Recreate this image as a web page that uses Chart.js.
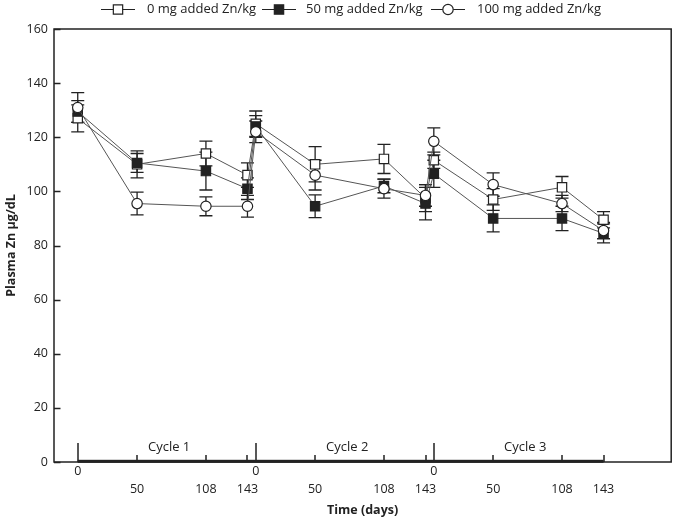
<!DOCTYPE html>
<html>
<head>
<meta charset="utf-8">
<script src="https://cdn.jsdelivr.net/npm/chart.js@4/dist/chart.umd.min.js"></script>
<style>
  html, body { margin: 0; padding: 0; background: #fff; }
  #wrap { width: 679px; height: 522px; }
</style>
</head>
<body>
<div id="wrap"><canvas id="c" width="679" height="522"></canvas></div>
<script>
// ---------- data ----------
const cycleNames = ['Cycle 1', 'Cycle 2', 'Cycle 3'];
const sampleDays = [0, 50, 108, 143];
const seriesNames = ['0 mg added Zn/kg', '50 mg added Zn/kg', '100 mg added Zn/kg'];

const zn0Mean  = [127, 110, 114, 106,   125, 110, 112, 97.5,   111.5, 97, 101.5, 89.5];
const zn0Err   = [5, 5, 4.6, 4.5,       4.7, 6.5, 5.4, 5,      3, 4, 4, 3];
const zn50Mean = [129.5, 110.5, 107.5, 101,  124, 94.5, 102, 95.5,  106.5, 90, 90, 84.5];
const zn50Err  = [4, 3.5, 7, 4,          4, 4.2, 2.5, 6,        5, 5, 4.5, 3.5];
const zn100Mean= [131, 95.5, 94.5, 94.5,  122, 106, 101, 98.5,  118.5, 102.5, 95.5, 85.5];
const zn100Err = [5.5, 4.2, 3.5, 4,      4, 5.5, 3.5, 4,        5, 4.3, 3, 3];

const yTicks = [0, 20, 40, 60, 80, 100, 120, 140, 160];

// ---------- derived ----------
const CYCLE_SPAN = 150; // days between cycle starts on the axis
const xValues = [];
const xDayLabels = [];
cycleNames.forEach((c, ci) => sampleDays.forEach(d => { xValues.push(ci * CYCLE_SPAN + d); xDayLabels.push(d); }));
const toPts = (means) => means.map((v, i) => ({ x: xValues[i], y: v }));

const FONT = "'Open Sans', 'DejaVu Sans', sans-serif";
const INK = '#222';

const datasets = [
  { label: seriesNames[0], data: toPts(zn0Mean), err: zn0Err, pointStyle: 'rect', pointRadius: 6.6,
    pointBackgroundColor: '#fff', order: 2 },
  { label: seriesNames[1], data: toPts(zn50Mean), err: zn50Err, pointStyle: 'rect', pointRadius: 6.6,
    pointBackgroundColor: '#222', order: 1 },
  { label: seriesNames[2], data: toPts(zn100Mean), err: zn100Err, pointStyle: 'circle', pointRadius: 5.2,
    pointBackgroundColor: '#fff', order: 0 }
].map(d => Object.assign({
  borderColor: '#555', borderWidth: 1, pointBorderColor: INK, pointBorderWidth: 1.2,
  pointHoverRadius: d.pointRadius, showLine: true, fill: false, tension: 0
}, d));

// error bars
const errorBars = {
  id: 'errorBars',
  beforeDatasetsDraw(chart) {
    const { ctx, scales: { x, y } } = chart;
    ctx.save();
    ctx.strokeStyle = INK;
    ctx.lineWidth = 1.3;
    chart.data.datasets.forEach(ds => {
      ds.data.forEach((p, i) => {
        const px = x.getPixelForValue(p.x);
        const top = y.getPixelForValue(p.y + ds.err[i]);
        const bot = y.getPixelForValue(p.y - ds.err[i]);
        ctx.beginPath();
        ctx.moveTo(px, top); ctx.lineTo(px, bot);
        ctx.moveTo(px - 6.5, top); ctx.lineTo(px + 6.5, top);
        ctx.moveTo(px - 6.5, bot); ctx.lineTo(px + 6.5, bot);
        ctx.stroke();
      });
    });
    ctx.restore();
  }
};

// frame, inward ticks, cycle labels, legend
const decor = {
  id: 'decor',
  afterDraw(chart) {
    const { ctx, chartArea: a, scales: { x, y } } = chart;
    ctx.save();
    ctx.strokeStyle = INK;
    ctx.lineWidth = 1.5;
    ctx.strokeRect(a.left, a.top, a.right - a.left, a.bottom - a.top);
    // y ticks inward
    ctx.beginPath();
    yTicks.forEach(v => {
      const py = Math.round(y.getPixelForValue(v)) + 0.5;
      ctx.moveTo(a.left, py); ctx.lineTo(a.left + 6.5, py);
    });
    ctx.stroke();
    // x ticks inward
    ctx.beginPath();
    xValues.forEach((v, i) => {
      const px = Math.round(x.getPixelForValue(v));
      const len = xDayLabels[i] === 0 ? 19 : 7;
      ctx.moveTo(px, a.bottom); ctx.lineTo(px, a.bottom - len);
    });
    ctx.stroke();
    // thick study segment on the axis
    const x0 = x.getPixelForValue(xValues[0]);
    const x1 = x.getPixelForValue(xValues[xValues.length - 1]);
    ctx.fillStyle = INK;
    ctx.fillRect(x0, a.bottom - 2.2, x1 - x0, 3);
    // cycle labels
    ctx.font = '13px ' + FONT;
    ctx.textAlign = 'center';
    ctx.textBaseline = 'middle';
    cycleNames.forEach((c, ci) => {
      ctx.fillText(c, x.getPixelForValue(ci * CYCLE_SPAN + 77), a.bottom - 15);
    });
    // legend
    const legendX = [[101, 135, 147], [262, 296, 306], [431, 465, 477]];
    const ly = 9.5;
    ctx.font = '13px ' + FONT;
    chart.data.datasets.forEach((ds, i) => {
      const [l0, l1, tx] = legendX[i];
      ctx.strokeStyle = INK; ctx.lineWidth = 1.2;
      ctx.beginPath(); ctx.moveTo(l0, ly); ctx.lineTo(l1, ly); ctx.stroke();
      ctx.fillStyle = ds.pointBackgroundColor; ctx.strokeStyle = INK; ctx.lineWidth = 1.2;
      ctx.beginPath();
      if (ds.pointStyle === 'rect') {
        const s = ds.pointRadius * Math.SQRT1_2;
        ctx.rect((l0 + l1) / 2 - s, ly - s, 2 * s, 2 * s);
      } else {
        ctx.arc((l0 + l1) / 2, ly, ds.pointRadius, 0, Math.PI * 2);
      }
      ctx.fill(); ctx.stroke();
      ctx.fillStyle = INK;
      ctx.textAlign = 'left';
      ctx.fillText(ds.label, tx, ly);
    });
    ctx.restore();
  }
};

new Chart(document.getElementById('c'), {
  type: 'line',
  data: { datasets },
  plugins: [errorBars, decor],
  options: {
    responsive: false,
    devicePixelRatio: 1,
    animation: false,
    layout: { padding: { top: 29, right: 7, left: 0, bottom: 0 } },
    plugins: { legend: { display: false }, tooltip: { enabled: false } },
    scales: {
      x: {
        type: 'linear', min: -20, max: 500,
        afterFit(s) { s.height = 60; },
        afterBuildTicks(s) { s.ticks = xValues.map(v => ({ value: v })); },
        grid: { display: false, drawTicks: false },
        border: { display: false },
        ticks: {
          autoSkip: false, maxRotation: 0, padding: 0, color: INK,
          font: { family: FONT, size: 12.5, lineHeight: 1.45 },
          callback: (v, i) => xDayLabels[i] === 0 ? ['0', ''] : ['', String(xDayLabels[i])]
        },
        title: { display: true, text: 'Time (days)', color: INK,
          font: { family: FONT, size: 12.5, weight: 'bold', lineHeight: 1.2 }, padding: { top: 0, bottom: 4 } }
      },
      y: {
        min: 0, max: 160,
        afterFit(s) { s.width = 54; },
        afterBuildTicks(s) { s.ticks = yTicks.map(v => ({ value: v })); },
        grid: { display: false, drawTicks: false },
        border: { display: false },
        ticks: { padding: 6, color: INK, font: { family: FONT, size: 12.5 } },
        title: { display: true, text: 'Plasma Zn µg/dL', color: INK,
          font: { family: FONT, size: 12.5, weight: 'bold', lineHeight: 1.2 }, padding: { top: 4, bottom: 0 } }
      }
    }
  }
});
</script>
</body>
</html>
